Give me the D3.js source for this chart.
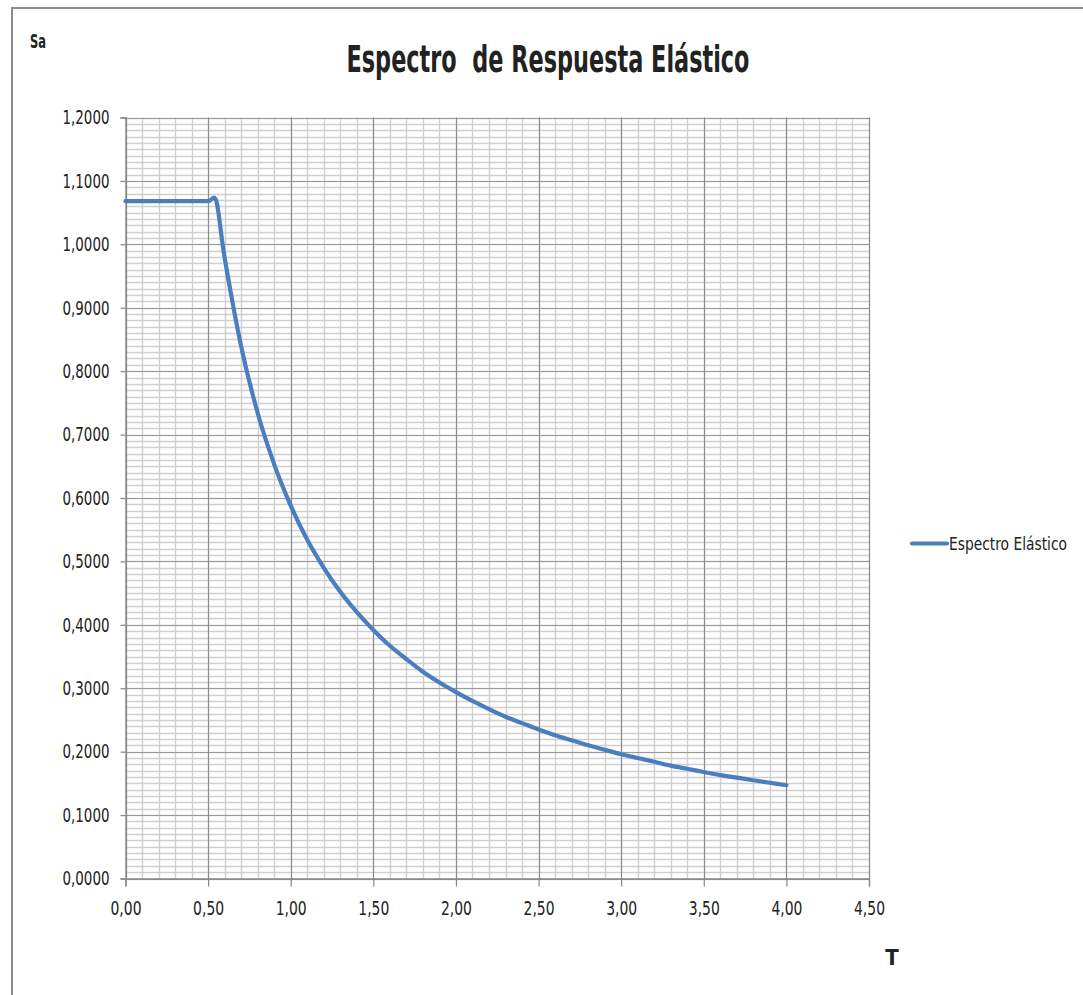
<!DOCTYPE html>
<html>
<head>
<meta charset="utf-8">
<script src="https://d3js.org/d3.v7.min.js"></script>
<style>
  html, body { margin: 0; padding: 0; background: #ffffff; }
  svg { display: block; }
  text { font-family: "Liberation Sans Narrow", "DejaVu Sans Condensed", "Liberation Sans", sans-serif; fill: #222; }
</style>
</head>
<body>
<svg id="chart" width="1083" height="995"></svg>
<script>
// Periodo T (s) y aceleración espectral Sa
const periods = [0.0, 0.1, 0.2, 0.3, 0.4, 0.5, 0.55, 0.6, 0.7, 0.8, 0.9, 1.0,
  1.1, 1.2, 1.3, 1.4, 1.5, 1.6, 1.7, 1.8, 1.9, 2.0,
  2.1, 2.2, 2.3, 2.4, 2.5, 2.6, 2.7, 2.8, 2.9, 3.0,
  3.1, 3.2, 3.3, 3.4, 3.5, 3.6, 3.7, 3.8, 3.9, 4.0];
const saValues = [1.068, 1.068, 1.068, 1.068, 1.068, 1.068, 1.068, 0.979, 0.839, 0.734, 0.653, 0.588,
  0.534, 0.490, 0.452, 0.420, 0.392, 0.367, 0.346, 0.326, 0.309, 0.294,
  0.280, 0.267, 0.255, 0.245, 0.235, 0.226, 0.218, 0.210, 0.203, 0.196,
  0.190, 0.184, 0.178, 0.173, 0.168, 0.163, 0.159, 0.155, 0.151, 0.147];

const xTickValues = [0, 0.5, 1.0, 1.5, 2.0, 2.5, 3.0, 3.5, 4.0, 4.5];
const xTickLabels = ["0,00", "0,50", "1,00", "1,50", "2,00", "2,50", "3,00", "3,50", "4,00", "4,50"];
const yTickValues = [0, 0.1, 0.2, 0.3, 0.4, 0.5, 0.6, 0.7, 0.8, 0.9, 1.0, 1.1, 1.2];
const yTickLabels = ["0,0000", "0,1000", "0,2000", "0,3000", "0,4000", "0,5000", "0,6000",
  "0,7000", "0,8000", "0,9000", "1,0000", "1,1000", "1,2000"];

const titleText = "Espectro  de Respuesta Elástico";
const seriesName = "Espectro Elástico";
const xTitle = "T";
const yTitle = "Sa";

const svg = d3.select("#chart");
const plot = { left: 125.5, right: 869, top: 117.5, bottom: 878.5 };

const x = d3.scaleLinear().domain([0, 4.5]).range([plot.left, plot.right]);
const y = d3.scaleLinear().domain([0, 1.2]).range([plot.bottom, plot.top]);

// outer chart frame
svg.append("path")
  .attr("d", `M12,995 L12,8 L1083,8`)
  .attr("fill", "none").attr("stroke", "#8c8c8c").attr("stroke-width", 2);

const grid = svg.append("g");
// minor horizontal gridlines every 0.01
grid.selectAll("line.hmin").data(y.ticks(120)).join("line")
  .attr("x1", plot.left).attr("x2", plot.right)
  .attr("y1", d => Math.round(y(d)) + 0.5).attr("y2", d => Math.round(y(d)) + 0.5)
  .attr("stroke", "#cfcfcf").attr("stroke-width", 1.4);
// minor vertical gridlines every 0.1
grid.selectAll("line.vmin").data(x.ticks(45)).join("line")
  .attr("y1", plot.top).attr("y2", plot.bottom)
  .attr("x1", d => Math.round(x(d)) + 0.5).attr("x2", d => Math.round(x(d)) + 0.5)
  .attr("stroke", "#cfcfcf").attr("stroke-width", 1.4);
// major horizontal gridlines
grid.selectAll("line.hmaj").data(yTickValues).join("line")
  .attr("x1", plot.left).attr("x2", plot.right)
  .attr("y1", d => Math.round(y(d)) + 0.5).attr("y2", d => Math.round(y(d)) + 0.5)
  .attr("stroke", "#9a9a9a").attr("stroke-width", 1.2);
// major vertical gridlines
grid.selectAll("line.vmaj").data(xTickValues).join("line")
  .attr("y1", plot.top).attr("y2", plot.bottom)
  .attr("x1", d => Math.round(x(d)) + 0.5).attr("x2", d => Math.round(x(d)) + 0.5)
  .attr("stroke", "#8a8a8a").attr("stroke-width", 1.1);

// axes
const xAxis = d3.axisBottom(x).tickValues(xTickValues)
  .tickFormat((d, i) => xTickLabels[i]).tickSize(8).tickPadding(15);
const yAxis = d3.axisLeft(y).tickValues(yTickValues)
  .tickFormat((d, i) => yTickLabels[i]).tickSize(5).tickPadding(11);

const gx = svg.append("g").attr("transform", `translate(0,${plot.bottom})`).call(xAxis);
const gy = svg.append("g").attr("transform", `translate(${plot.left},0)`).call(yAxis);
[gx, gy].forEach(g => {
  g.select(".domain").attr("stroke", "#868686").attr("stroke-width", 1.3);
  g.selectAll(".tick line").attr("stroke", "#868686").attr("stroke-width", 1.2);
  g.selectAll(".tick text").attr("fill", "#1a1a1a").style("font-size", "19.5px")
    .style("font-family", "'Liberation Sans Narrow', 'DejaVu Sans Condensed', sans-serif")
    .attr("lengthAdjust", "spacingAndGlyphs");
});
gx.selectAll(".tick text").attr("textLength", 31);
gy.selectAll(".tick text").attr("textLength", 47);

// spectrum line
const pts = periods.map((t, i) => [t, saValues[i]]);
const line = d3.line().x(d => x(d[0])).y(d => y(d[1])).curve(d3.curveCardinal.tension(0.15));
svg.append("path").datum(pts)
  .attr("d", line)
  .attr("fill", "none").attr("stroke", "#4a7ebf").attr("stroke-width", 4.2)
  .attr("stroke-linejoin", "round").attr("stroke-linecap", "round");

// title
svg.append("text")
  .attr("x", 548).attr("y", 72).attr("text-anchor", "middle")
  .attr("textLength", 403).attr("lengthAdjust", "spacingAndGlyphs")
  .style("white-space", "pre")
  .style("font-size", "38px").style("font-weight", "bold").attr("fill", "#111")
  .text(titleText);

// axis titles
svg.append("text").attr("x", 30).attr("y", 48)
  .attr("textLength", 16).attr("lengthAdjust", "spacingAndGlyphs")
  .style("font-size", "19px").style("font-weight", "bold").attr("fill", "#111")
  .text(yTitle);
svg.append("text").attr("x", 892).attr("y", 965).attr("text-anchor", "middle")
  .style("font-size", "22px").style("font-weight", "bold").attr("fill", "#111")
  .text(xTitle);

// legend
const lg = svg.append("g").attr("transform", "translate(912,543.5)");
lg.append("line").attr("x1", 0).attr("x2", 35).attr("y1", 0).attr("y2", 0)
  .attr("stroke", "#4a7ebf").attr("stroke-width", 4.2).attr("stroke-linecap", "round");
lg.append("text").attr("x", 37).attr("y", 6.5)
  .attr("textLength", 118).attr("lengthAdjust", "spacingAndGlyphs")
  .style("font-size", "17px").attr("fill", "#1a1a1a")
  .text(seriesName);
</script>
</body>
</html>
